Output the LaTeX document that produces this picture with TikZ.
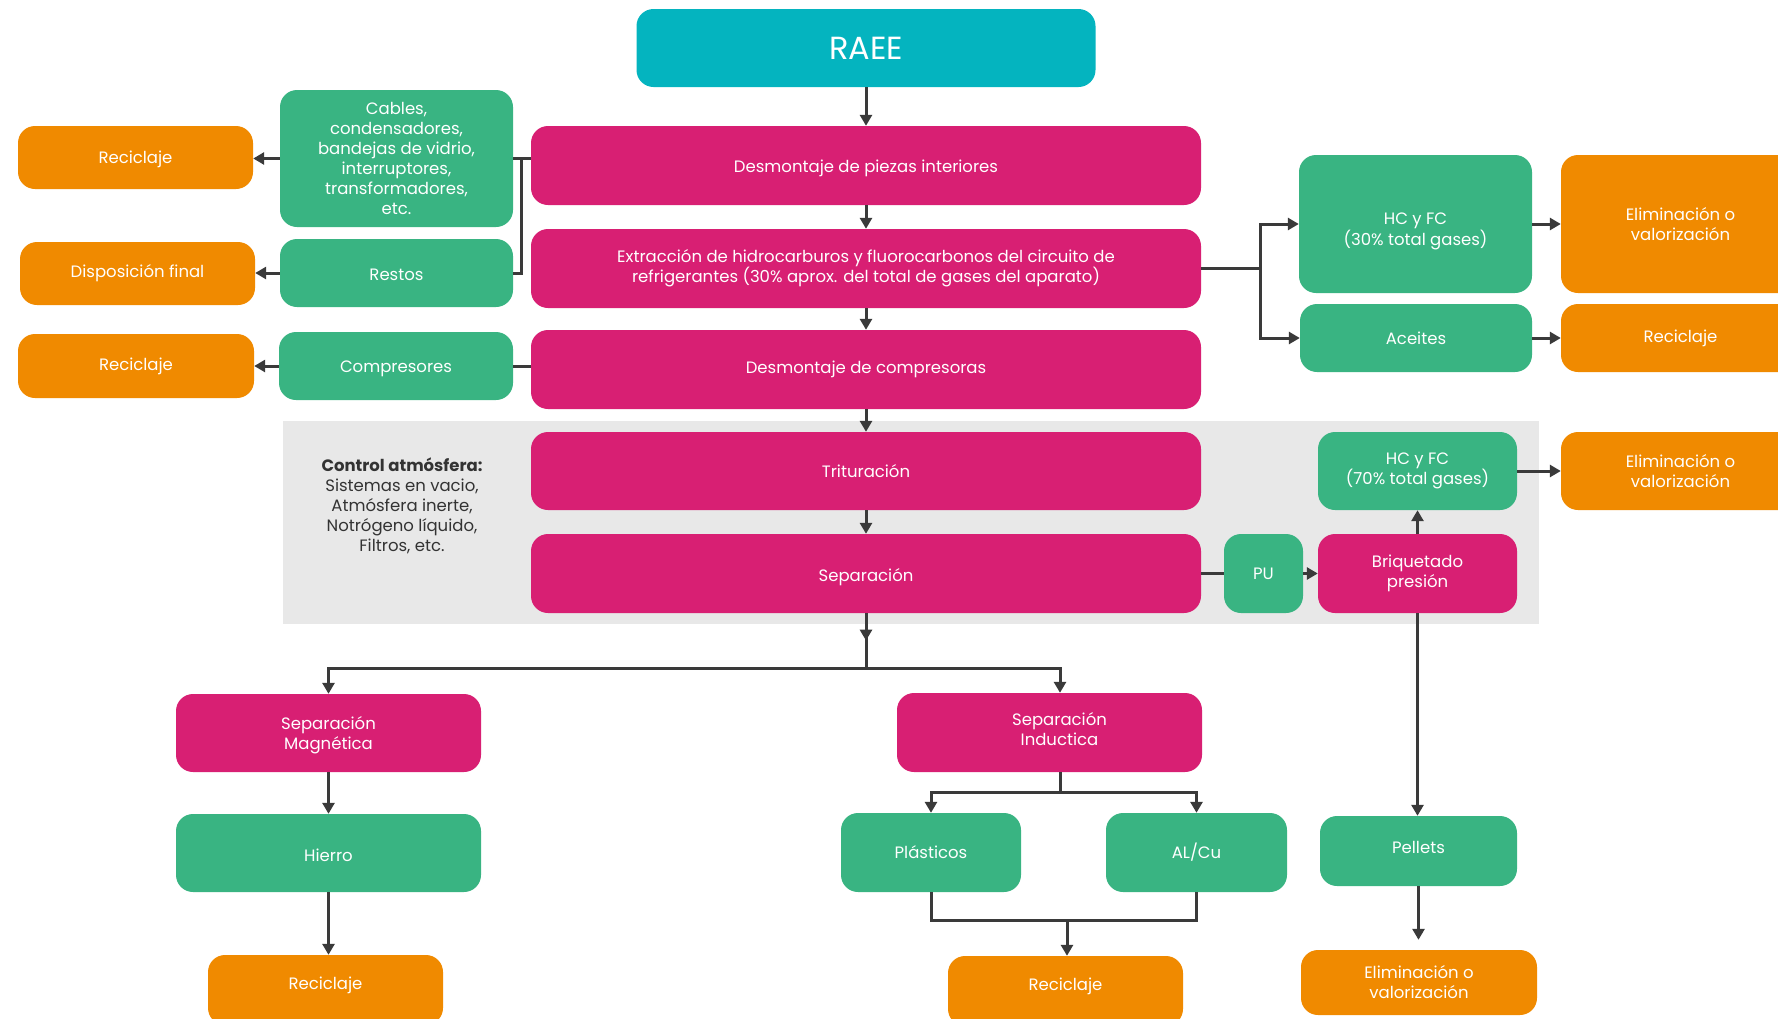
\documentclass[tikz,border=0pt]{standalone}
\usepackage{fontspec}
\setmainfont{Poppins}
\usetikzlibrary{arrows.meta,calc}
\definecolor{cteal}{HTML}{04B4BF}
\definecolor{cpink}{HTML}{D81F73}
\definecolor{cgreen}{HTML}{39B482}
\definecolor{corange}{HTML}{F08A00}
\definecolor{cgray}{HTML}{E8E8E8}
\definecolor{cline}{HTML}{3A3A3A}
\definecolor{ctext}{HTML}{333333}
\newcommand\shtxt[2]{\raisebox{#1}[\height][\depth]{\begin{tabular}{@{}c@{}}#2\end{tabular}}}
\tikzset{
  box/.style={rounded corners=17pt, inner sep=0pt, align=center, text=white,
    font=\fontsize{16.5}{20}\selectfont},
  pinkbox/.style={box, fill=cpink},
  greenbox/.style={box, fill=cgreen},
  orangebox/.style={box, fill=corange},
  tealbox/.style={box, fill=cteal, font=\fontsize{32}{36}\selectfont},
  conn/.style={draw=cline, line width=3pt},
  arr/.style={conn, -{Triangle[length=11pt,width=12pt]}},
}
\begin{document}
\begin{tikzpicture}[x=1pt,y=-1pt]
\useasboundingbox (0,0) rectangle (1778,1018);
\clip (0,0) rectangle (1778,1018);
% background panel
\fill[cgray] (283,421) rectangle (1539,624);

% main column
\node[tealbox, minimum width=459pt, minimum height=78pt] (raee) at (866,48) {RAEE};
\node[pinkbox, minimum width=670pt, minimum height=79pt] (piezas) at (866,165.5) {\shtxt{-3pt}{Desmontaje de piezas interiores}};
\node[pinkbox, minimum width=670pt, minimum height=79pt] (extr) at (866,268.5) {Extracción de hidrocarburos y fluorocarbonos del circuito de\\refrigerantes (30\% aprox. del total de gases del aparato)};
\node[pinkbox, minimum width=670pt, minimum height=79pt] (comp) at (866,369.5) {Desmontaje de compresoras};
\node[pinkbox, minimum width=670pt, minimum height=78pt] (trit) at (866,471) {Trituración};
\node[pinkbox, minimum width=670pt, minimum height=79pt] (sep) at (866,573.5) {\shtxt{-4pt}{Separación}};

\node[align=center, text=ctext, font=\fontsize{16.5}{20}\selectfont] (ctrl) at (402,506)
  {\textbf{Control atmósfera:}\\Sistemas en vacio,\\Atmósfera inerte,\\Notrógeno líquido,\\Filtros, etc.};

% left side
\node[orangebox, minimum width=235pt, minimum height=63pt] (rec1) at (135.5,157.5) {\shtxt{-2pt}{Reciclaje}};
\node[orangebox, minimum width=235pt, minimum height=63pt] (disp) at (137.5,273.5) {Disposición final};
\node[orangebox, minimum width=236pt, minimum height=64pt] (rec2) at (136,366) {Reciclaje};
\node[greenbox, minimum width=233pt, minimum height=137pt] (cables) at (396.5,158.5) {Cables,\\condensadores,\\bandejas de vidrio,\\interruptores,\\transformadores,\\etc.};
\node[greenbox, minimum width=233pt, minimum height=68pt] (restos) at (396.5,273) {\shtxt{-3pt}{Restos}};
\node[greenbox, minimum width=234pt, minimum height=68pt] (compr) at (396,366) {\shtxt{-2pt}{Compresores}};

% right side
\node[greenbox, minimum width=233pt, minimum height=138pt] (hc30) at (1415.5,224) {\shtxt{-7pt}{HC y FC\\(30\% total gases)}};
\node[greenbox, minimum width=232pt, minimum height=68pt] (aceites) at (1416,338) {Aceites};
\node[orangebox, minimum width=239pt, minimum height=138pt] (elim1) at (1680.5,224) {\shtxt{-2pt}{Eliminación o\\valorización}};
\node[orangebox, minimum width=239pt, minimum height=68pt] (recR) at (1680.5,338) {Reciclaje};
\node[greenbox, minimum width=199pt, minimum height=78pt] (hc70) at (1417.5,471) {HC y FC\\(70\% total gases)};
\node[orangebox, minimum width=239pt, minimum height=78pt] (elim2) at (1680.5,471) {Eliminación o\\valorización};
\node[greenbox, minimum width=79pt, minimum height=79pt] (pu) at (1263.5,573.5) {PU};
\node[pinkbox, minimum width=199pt, minimum height=79pt] (briq) at (1417.5,573.5) {Briquetado\\presión};

% bottom
\node[pinkbox, minimum width=305pt, minimum height=78pt] (sepmag) at (328.5,733) {\shtxt{-2pt}{Separación\\Magnética}};
\node[greenbox, minimum width=305pt, minimum height=78pt] (hierro) at (328.5,853) {\shtxt{-4.5pt}{Hierro}};
\node[orangebox, minimum width=235pt, minimum height=70pt] (recBL) at (325.5,990) {\shtxt{4.5pt}{Reciclaje}};
\node[pinkbox, minimum width=305pt, minimum height=79pt] (sepind) at (1049.5,732.5) {\shtxt{1pt}{\hspace*{20pt}Separación\\\hspace*{20pt}Inductica}};
\node[greenbox, minimum width=180pt, minimum height=79pt] (plast) at (931,852.5) {Plásticos};
\node[greenbox, minimum width=181pt, minimum height=79pt] (alcu) at (1196.5,852.5) {AL/Cu};
\node[orangebox, minimum width=235pt, minimum height=70pt] (recM) at (1065.5,991) {\shtxt{4.5pt}{Reciclaje}};
\node[greenbox, minimum width=197pt, minimum height=70pt] (pellets) at (1418.5,851) {\shtxt{2pt}{Pellets}};
\node[orangebox, minimum width=236pt, minimum height=65pt] (elimB) at (1419,982.5) {Eliminación o\\valorización};

% coordinates
\coordinate (lb) at (521,158.5);
\coordinate (rb) at (1260,268.5);
\coordinate (b1) at (866,668);
\coordinate (b2) at (1060,792);
\coordinate (m) at (1067,920);

% main column connectors
\draw[arr] (raee.south) -- (piezas.north);
\draw[arr] (piezas.south) -- (extr.north);
\draw[arr] (extr.south) -- (comp.north);
\draw[arr] (comp.south) -- (trit.north);
\draw[arr] (trit.south) -- (sep.north);

% left connectors
\draw[conn] (cables.east) -- (cables.east -| piezas.west);
\draw[conn] (lb) |- (restos.east);
\draw[conn] (compr.east) -- (compr.east -| comp.west);
\draw[arr] (cables.west) -- (cables.west -| rec1.east);
\draw[arr] (restos.west) -- (restos.west -| disp.east);
\draw[arr] (compr.west) -- (compr.west -| rec2.east);

% right connectors
\draw[conn] (extr.east) -- (rb);
\draw[arr] (rb) |- (hc30.west);
\draw[arr] (rb) |- (aceites.west);
\draw[arr] (hc30.east) -- (elim1.west);
\draw[arr] (aceites.east) -- (recR.west);
\draw[arr] (hc70.east) -- (elim2.west);
\draw[conn] (sep.east) -- (pu.west);
\draw[arr] (pu.east) -- (briq.west);
\draw[arr] (briq.north) -- (hc70.south);
\draw[arr] (briq.south) -- (briq.south |- pellets.north);
\draw[arr] (pellets.south) -- ([yshift=10pt]pellets.south |- elimB.north);

% bottom connectors
\draw[conn] (sep.south) -- (b1);
\draw[arr] (sep.south) -- ($(sep.south)!0.5!(b1)$);
\draw[arr] (b1) -| (sepmag.north);
\draw[arr] (b1) -| ([xshift=10.5pt]sepind.north);
\draw[arr] (sepmag.south) -- (hierro.north);
\draw[arr] (hierro.south) -- (hierro.south |- recBL.north);
\draw[conn] ([xshift=10.5pt]sepind.south) -- (b2);
\draw[arr] (b2) -| (plast.north);
\draw[arr] (b2) -| (alcu.north);
\draw[conn] (plast.south) |- (m) -| (alcu.south);
\draw[arr] (m) -- (m |- recM.north);
\end{tikzpicture}
\end{document}
